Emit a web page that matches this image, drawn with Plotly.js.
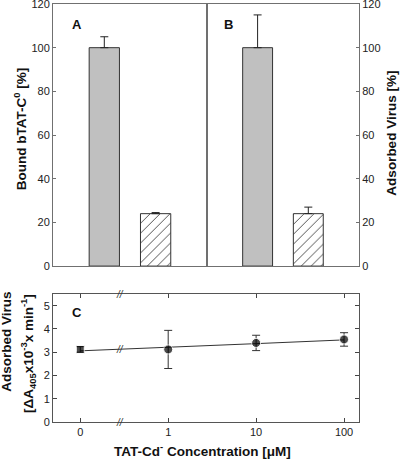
<!DOCTYPE html>
<html><head><meta charset="utf-8">
<script src="https://cdn.plot.ly/plotly-3.0.1.min.js"></script>
<style>html,body{margin:0;padding:0;background:#fff}</style>
</head><body><div id="chart" style="width:400px;height:459px"></div>
<script>
// Panel A & B: bar positions and values
const barPos = [1, 2];
const boundA = [100, 24];
const boundAErr = [5, 0.5];
const adsorbedB = [100, 24];
const adsorbedBErr = [15, 3];
const pctTicks = [0, 20, 40, 60, 80, 100, 120];
// Panel C
const concPos = [0, 1, 2, 3];
const concLabels = ['0', '1', '10', '100'];
const virusC = [3.12, 3.12, 3.4, 3.55];
const virusCErr = [0.12, 0.82, 0.33, 0.29];
const fitC = [3.06, 3.2, 3.37, 3.53];
const markerSyms = ['square', 'circle', 'circle', 'circle'];

const F = 'Liberation Sans, Arial, sans-serif';
const frame = '#707070';
const fills = ['#c0c0c0', '#ffffff'];
const pats = ['', '/'];

function barTrace(vals, errs, xa, ya){
  return {
    type: 'bar', x: barPos, y: vals, xaxis: xa, yaxis: ya, width: 0.59,
    marker: {color: fills, line: {color: '#333', width: 1},
      pattern: {shape: pats, fgcolor: '#222', fgopacity: 1, bgcolor: '#fff', size: 7, solidity: 0.13, fillmode: 'overlay'}},
    error_y: {type: 'data', array: errs, arrayminus: [0, 0], symmetric: false, color: '#222', thickness: 1, width: 4},
    showlegend: false, hoverinfo: 'skip'
  };
}

const data = [
  barTrace(boundA, boundAErr, 'x', 'y'),
  barTrace(adsorbedB, adsorbedBErr, 'x2', 'y2'),
  {type: 'scatter', mode: 'lines', x: concPos, y: fitC, xaxis: 'x3', yaxis: 'y3',
   line: {color: '#333', width: 1}, showlegend: false, hoverinfo: 'skip'},
  {type: 'scatter', mode: 'markers', x: concPos, y: virusC, xaxis: 'x3', yaxis: 'y3',
   marker: {color: '#000', size: [8, 9, 9, 9], symbol: markerSyms},
   error_y: {type: 'data', array: virusCErr, color: '#333', thickness: 1, width: 4},
   showlegend: false, hoverinfo: 'skip'}
];

const tickFont = {family: F, size: 11, color: '#222'};
const common = {showline: true, linecolor: frame, linewidth: 1, showgrid: false, zeroline: false, tickfont: tickFont};
const TF = {family: F, size: 13.5, color: '#111'};
const ann = (text, x, y, extra) => Object.assign({text, xref: 'paper', yref: 'paper', x, y, xanchor: 'center', yanchor: 'middle', showarrow: false, font: TF}, extra || {});

const layout = {
  width: 400, height: 459,
  margin: {l: 53, r: 41, t: 4, b: 37},
  paper_bgcolor: '#fff', plot_bgcolor: '#fff',
  bargap: 0,
  xaxis: Object.assign({}, common, {domain: [0, 0.503], range: [0, 3], showticklabels: false, ticks: '', mirror: true, anchor: 'y'}),
  yaxis: Object.assign({}, common, {domain: [0.373, 1], range: [0, 120], tickvals: pctTicks, ticks: 'inside', ticklen: 3, tickcolor: frame, mirror: true, anchor: 'x', ticklabeloverflow: 'allow'}),
  xaxis2: Object.assign({}, common, {domain: [0.503, 1], range: [0, 3], showticklabels: false, ticks: '', mirror: true, anchor: 'y2'}),
  yaxis2: Object.assign({}, common, {domain: [0.373, 1], range: [0, 120], tickvals: pctTicks, side: 'right', ticks: 'inside', ticklen: 3, tickcolor: frame, mirror: true, anchor: 'x2', ticklabeloverflow: 'allow'}),
  xaxis3: Object.assign({}, common, {domain: [0, 1], range: [-0.31, 3.17], tickvals: concPos, ticktext: concLabels, ticks: 'inside', ticklen: 4, tickcolor: '#444', linecolor: '#555', mirror: 'ticks', anchor: 'y3'}),
  yaxis3: Object.assign({}, common, {domain: [0, 0.306], range: [0, 5.5], dtick: 1, ticks: 'inside', ticklen: 4, tickcolor: '#444', linecolor: '#555', mirror: 'ticks', anchor: 'x3'}),
  annotations: [
    ann('<b>A</b>', 0.078, 0.952, {font: {family: F, size: 13, color: '#111'}}),
    ann('<b>B</b>', 0.575, 0.952, {font: {family: F, size: 13, color: '#111'}}),
    ann('<b>C</b>', 0.078, 0.263, {font: {family: F, size: 13, color: '#111'}}),
    ann('<b>Bound bTAT-C<sup>0</sup> [%]</b>', -0.105, 0.70, {textangle: -90}),
    ann('<b>Adsorbed Virus [%]</b>', 1.108, 0.69, {textangle: -90}),
    ann('<b>Adsorbed Virus</b>', -0.152, 0.193, {textangle: -90}),
    ann('<b>[ΔA<sub>405</sub>x10<sup>-3</sup>x min<sup>-1</sup>]</b>', -0.08, 0.164, {textangle: -90}),
    ann('<b>TAT-Cd<sup>-</sup> Concentration [μM]</b>', 0.49, -0.068),
    {text: '<i>//</i>', xref: 'x3', yref: 'y3', x: 0.45, y: 5.5, showarrow: false, font: {family: F, size: 10, color: '#333'}},
    {text: '<i>//</i>', xref: 'x3', yref: 'y3', x: 0.45, y: 3.12, showarrow: false, font: {family: F, size: 10, color: '#333'}},
    {text: '<i>//</i>', xref: 'x3', yref: 'y3', x: 0.45, y: 0, showarrow: false, font: {family: F, size: 10, color: '#333'}}
  ]
};

Plotly.newPlot('chart', data, layout, {displayModeBar: false, staticPlot: true});
</script>
</body></html>
